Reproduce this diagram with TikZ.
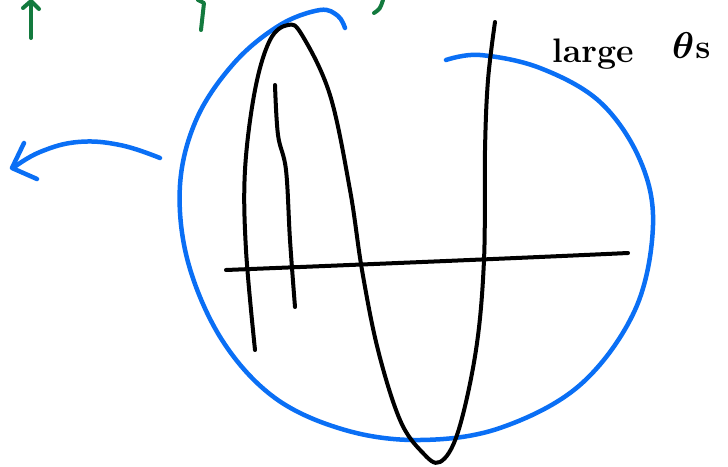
\documentclass[tikz,border=0pt]{standalone}
\usepackage{amsmath,bm,graphicx}
\usetikzlibrary{arrows.meta}
\definecolor{penblue}{HTML}{0A6FF5}
\definecolor{pengreen}{HTML}{137A3E}
\definecolor{penink}{HTML}{000000}
\tikzset{
  ink/.style={draw=penink, line width=4pt, line cap=round, line join=round},
  bluepen/.style={draw=penblue, line width=4.5pt, line cap=round, line join=round},
  greenpen/.style={draw=pengreen, line width=4pt, line cap=round, line join=round},
}
\begin{document}
\begin{tikzpicture}[x=1pt, y=-1pt]
  \useasboundingbox (0,0) rectangle (728,466);
  % green marks cut at the top
  \draw[greenpen] (31,38) -- (31,2);
  \draw[greenpen] (23,8) -- (31,1) -- (39,9);
  \draw[greenpen] (201,30) -- (204,3) -- (198,0);
  \draw[greenpen] (374,13) .. controls (380,9) .. (383,0);
  % blue circle
  \draw[bluepen] plot[smooth, tension=0.6] coordinates {(446,60) (480,55) (540,68) (600,102) (640,160) (653,225) (635,310) (580,385) (500,428) (420,440) (345,430) (275,398) (222,340) (188,262) (180,185) (197,118) (235,62) (280,25) (320,10) (338,16) (345,28)};
  % blue arrow to the left
  \draw[bluepen] plot[smooth, tension=0.7] coordinates {(160,158) (120,145) (78,142) (40,152) (13,168)};
  \draw[bluepen] (24,143) -- (12,168) -- (37,179);
  % axes
  \draw[ink] (226,270) .. controls (400,263) and (520,258) .. (628,253);
  % the curve
  \draw[ink] plot[smooth, tension=0.6] coordinates {(255,350) (246,250) (245,170) (255,90) (270,40) (288,25) (302,35) (330,95) (350,190) (362,270) (378,350) (400,420) (422,452) (440,462) (458,432) (476,350) (484,260) (485,150) (488,80) (495,22)};
  \draw[ink] plot[smooth, tension=0.6] coordinates {(275,85) (278,135) (286,170) (290,240) (295,307)};
  % label
  \node[anchor=base west, font=\fontsize{34}{36}\selectfont\bfseries, inner sep=0pt] (lbl) at (552,62) {large};
  \node[anchor=base west, font=\fontsize{34}{36}\selectfont\bfseries, inner sep=0pt] (theta) at (672,58) {\scalebox{1.5}{$\bm{\theta}$}\kern1pt s};
\end{tikzpicture}
\end{document}
